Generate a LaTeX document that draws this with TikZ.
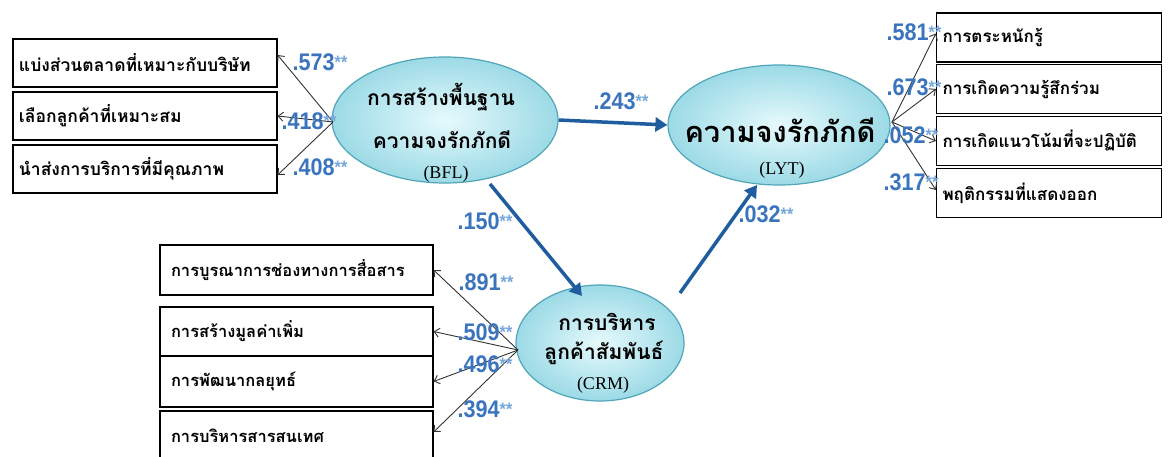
\documentclass[tikz,border=0pt]{standalone}
\usepackage{fontspec}
\usetikzlibrary{shapes.geometric,arrows.meta}
\newfontfamily\thai[Script=Thai]{Loma}
\newfontfamily\numfont[FakeStretch=0.9]{Liberation Sans}
\newfontfamily\serifla{Liberation Serif}
\definecolor{numblue}{HTML}{3A74BC}
\definecolor{starblue}{HTML}{74A6DA}
\definecolor{pathblue}{HTML}{1F5D9E}
\definecolor{elldraw}{HTML}{4FA6B8}
\definecolor{ellin}{HTML}{E6FAFC}
\definecolor{ellout}{HTML}{9CDAE6}
\tikzset{
  x=1pt,y=-1pt,
  ind/.style={draw=black,line width=1.2pt,minimum height=48pt,inner sep=0pt,font=\thai\bfseries\fontsize{17}{19}\selectfont},
  lat/.style={shape=ellipse,draw=elldraw,line width=1.2pt,inner color=ellin,outer color=ellout,inner sep=0pt},
  lattext/.style={font=\thai\bfseries\fontsize{21}{24}\selectfont,inner sep=0pt},
  abbr/.style={font=\serifla\fontsize{18}{20}\selectfont,inner sep=0pt},
  coef/.style={font=\numfont\bfseries\fontsize{24}{26}\selectfont,text=numblue,inner sep=0pt},
  thin/.style={draw=black!80,line width=0.9pt,-{Straight Barb[length=5pt,width=9pt]}},
  thick/.style={draw=pathblue,line width=3.5pt,-{Triangle[length=12pt,width=14pt]}}
}
\newcommand{\cf}[1]{#1\raisebox{1.5pt}{\textcolor{starblue}{\fontsize{18}{18}\selectfont **}}}
\begin{document}
\begin{tikzpicture}
\useasboundingbox[fill=white] (0,0) rectangle (1175,457);
% left indicators
\node[ind,minimum width=264pt,text width=252pt,align=left,font=\thai\bfseries\fontsize{17.5}{19}\selectfont] (l1) at (145,63) {แบ่งส่วนตลาดที่เหมาะกับบริษัท};
\node[ind,minimum width=264pt,text width=252pt,align=left,font=\thai\bfseries\fontsize{17.5}{19}\selectfont] (l2) at (145,116) {เลือกลูกค้าที่เหมาะสม};
\node[ind,minimum width=264pt,text width=252pt,align=left,font=\thai\bfseries\fontsize{17.5}{19}\selectfont] (l3) at (145,169) {นำส่งการบริการที่มีคุณภาพ};
% right indicators
\node[ind,minimum width=225pt,text width=213pt,align=left,minimum height=49pt] (r1) at (1049,37.5) {การตระหนักรู้};
\node[ind,minimum width=225pt,text width=213pt,align=left,minimum height=49pt] (r2) at (1049,89) {การเกิดความรู้สึกร่วม};
\node[ind,minimum width=225pt,text width=213pt,align=left,minimum height=49pt] (r3) at (1049,141) {การเกิดแนวโน้มที่จะปฏิบัติ};
\node[ind,minimum width=225pt,text width=213pt,align=left,minimum height=49pt] (r4) at (1049,193) {พฤติกรรมที่แสดงออก};
% bottom indicators
\node[ind,minimum width=273pt,text width=251pt,align=left,minimum height=50pt,font=\thai\bfseries\fontsize{16.5}{19}\selectfont] (b1) at (296.5,270) {การบูรณาการช่องทางการสื่อสาร};
\node[ind,minimum width=273pt,text width=251pt,align=left,minimum height=49pt,font=\thai\bfseries\fontsize{16.5}{19}\selectfont] (b2) at (296.5,331.5) {การสร้างมูลค่าเพิ่ม};
\node[ind,minimum width=273pt,text width=251pt,align=left,minimum height=51pt,font=\thai\bfseries\fontsize{16.5}{19}\selectfont] (b3) at (296.5,381.5) {การพัฒนากลยุทธ์};
\node[ind,minimum width=273pt,text width=251pt,align=left,minimum height=50pt,font=\thai\bfseries\fontsize{16.5}{19}\selectfont] (b4) at (296.5,436) {การบริหารสารสนเทศ};
% latent variables
\node[lat,minimum width=226pt,minimum height=126pt] (bfl) at (445,120) {};
\node[lat,minimum width=222pt,minimum height=120pt] (lyt) at (779,125) {};
\node[lat,minimum width=168pt,minimum height=116pt] (crm) at (600,343) {};
\node[lattext] (bfl1) at (441,97) {การสร้างพื้นฐาน};
\node[lattext] (bfl2) at (442,140) {ความจงรักภักดี};
\node[abbr] (bfl3) at (446,174) {(BFL)};
\node[lattext,font=\thai\bfseries\fontsize{29}{32}\selectfont] (lyt1) at (780,130) {ความจงรักภักดี};
\node[abbr] (lyt2) at (782,170) {(LYT)};
\node[lattext] (crm1) at (607,322) {การบริหาร};
\node[lattext] (crm2) at (604,353) {ลูกค้าสัมพันธ์};
\node[abbr] (crm3) at (603,385) {(CRM)};
% anchor points for loadings
\coordinate (bflw) at (333,122);
\coordinate (lyte) at (892,122);
\coordinate (crmw) at (518,350);
\coordinate (bfls) at (490,184);
\coordinate (crmn) at (582,296);
\coordinate (crmne) at (680,293);
\coordinate (lyts) at (757,185);
% loadings
\draw[thin] (bflw) -- ([yshift=8pt]l1.east);
\draw[thin] (bflw) -- (l2.east);
\draw[thin] (bflw) -- ([yshift=-6pt]l3.east);
\draw[thin] (lyte) -- ([yshift=4pt]r1.west);
\draw[thin] (lyte) -- (r2.west);
\draw[thin] (lyte) -- (r3.west);
\draw[thin] (lyte) -- ([yshift=3pt]r4.west);
\draw[thin] (crmw) -- (b1.east);
\draw[thin] (crmw) -- (b2.east);
\draw[thin] (crmw) -- (b3.east);
\draw[thin] (crmw) -- ([yshift=4pt]b4.east);
% structural paths
\draw[thick] (bfl.east) -- (lyt.west);
\draw[thick] (bfls) -- (crmn);
\draw[thick] (crmne) -- (lyts);
% coefficients
\node[coef] (c1) at (320,62) {\cf{.573}};
\node[coef] (c2) at (309,121) {\cf{.418}};
\node[coef] (c3) at (320,167) {\cf{.408}};
\node[coef] (c4) at (621,101) {\cf{.243}};
\node[coef] (c5) at (485,221) {\cf{.150}};
\node[coef] (c6) at (766,214) {\cf{.032}};
\node[coef] (c7) at (914,32) {\cf{.581}};
\node[coef] (c8) at (914,87) {\cf{.673}};
\node[coef] (c9) at (911,135) {\cf{.052}};
\node[coef] (c10) at (911,182) {\cf{.317}};
\node[coef] (c11) at (486,282) {\cf{.891}};
\node[coef] (c12) at (485,332) {\cf{.509}};
\node[coef] (c13) at (485,364) {\cf{.496}};
\node[coef] (c14) at (485,409) {\cf{.394}};
\end{tikzpicture}
\end{document}
